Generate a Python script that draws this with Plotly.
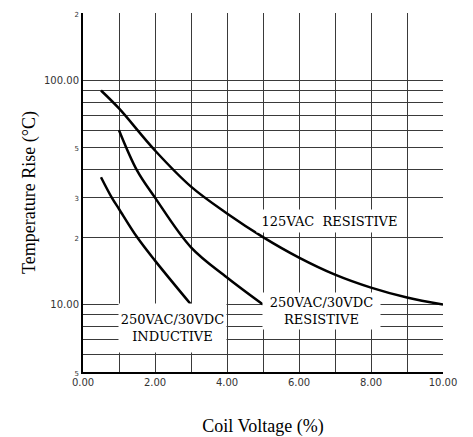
import plotly.graph_objects as go
import math

# Data
x_125 = [0.5, 1, 2, 3, 4, 5, 6, 7, 8, 9, 10]
y_125 = [90.2, 75.0, 48.7, 33.6, 25.5, 20.0, 16.2, 13.6, 11.9, 10.75, 10]

x_250r = [1, 1.5, 2, 3, 4, 5]
y_250r = [60, 39.7, 30, 18, 13.2, 10]

x_250i = [0.5, 0.8, 1, 1.5, 2, 3]
y_250i = [37, 30, 26.7, 20, 15.7, 10]

x_tickvals = [0, 1, 2, 3, 4, 5, 6, 7, 8, 9, 10]
x_ticktext = ["0.00", "", "2.00", "", "4.00", "", "6.00", "", "8.00", "", "10.00"]

y_tickvals = [5, 6, 7, 8, 9, 10, 20, 30, 40, 50, 60, 70, 80, 90, 100, 200]
small = lambda s: '<span style="font-size:7px">%s</span>' % s
y_ticktext = [small("5"), "", "", "", "", "10.00", small("2"), small("3"), "", small("5"),
              "", "", "", "", "100.00", small("2")]

labels = ["125VAC&nbsp;&nbsp;RESISTIVE", "250VAC/30VDC<br>RESISTIVE", "250VAC/30VDC<br>INDUCTIVE"]

fig = go.Figure()
for xs, ys in [(x_125, y_125), (x_250r, y_250r), (x_250i, y_250i)]:
    fig.add_trace(go.Scatter(x=xs, y=ys, mode="lines",
                             line=dict(color="black", width=2.5, shape="spline", smoothing=1.0),
                             showlegend=False, hoverinfo="skip"))

ann_font = dict(family="DejaVu Serif", size=13, color="black")
fig.add_annotation(x=6.84, y=math.log10(23.6), text=labels[0], showarrow=False,
                   bgcolor="white", width=145, height=22, borderpad=0, font=ann_font)
fig.add_annotation(x=6.63, y=math.log10(9.4), text=labels[1], showarrow=False,
                   bgcolor="white", width=117, height=36, borderpad=0, font=ann_font)
fig.add_annotation(x=2.49, y=math.log10(7.89), text=labels[2], showarrow=False,
                   bgcolor="white", width=107, height=48, borderpad=0, font=ann_font)

grid_col = "#3a3a3a"
fig.update_layout(
    width=465, height=429,
    margin=dict(l=75, r=30, t=5, b=65),
    paper_bgcolor="white", plot_bgcolor="white",
    xaxis=dict(range=[0, 10], tickmode="array", tickvals=x_tickvals, ticktext=x_ticktext,
               showgrid=True, gridcolor=grid_col, gridwidth=1.2,
               showline=True, linecolor="black", linewidth=2,
               ticks="", zeroline=False, automargin=False,
               tickfont=dict(family="DejaVu Sans", size=10, color="#333333"),
               title=dict(text="Coil Voltage (%)", standoff=36,
                          font=dict(family="Liberation Serif", size=18, color="black"))),
    yaxis=dict(type="log", range=[math.log10(5), math.log10(200)],
               tickmode="array", tickvals=y_tickvals, ticktext=y_ticktext,
               showgrid=True, gridcolor=grid_col, gridwidth=1.2,
               showline=True, linecolor="black", linewidth=2,
               ticks="", zeroline=False, automargin=False,
               tickfont=dict(family="DejaVu Sans", size=10, color="#333333"),
               title=dict(text="Temperature Rise (°C)", standoff=4,
                          font=dict(family="Liberation Serif", size=18, color="black"))),
)

fig.write_html("out.html")
